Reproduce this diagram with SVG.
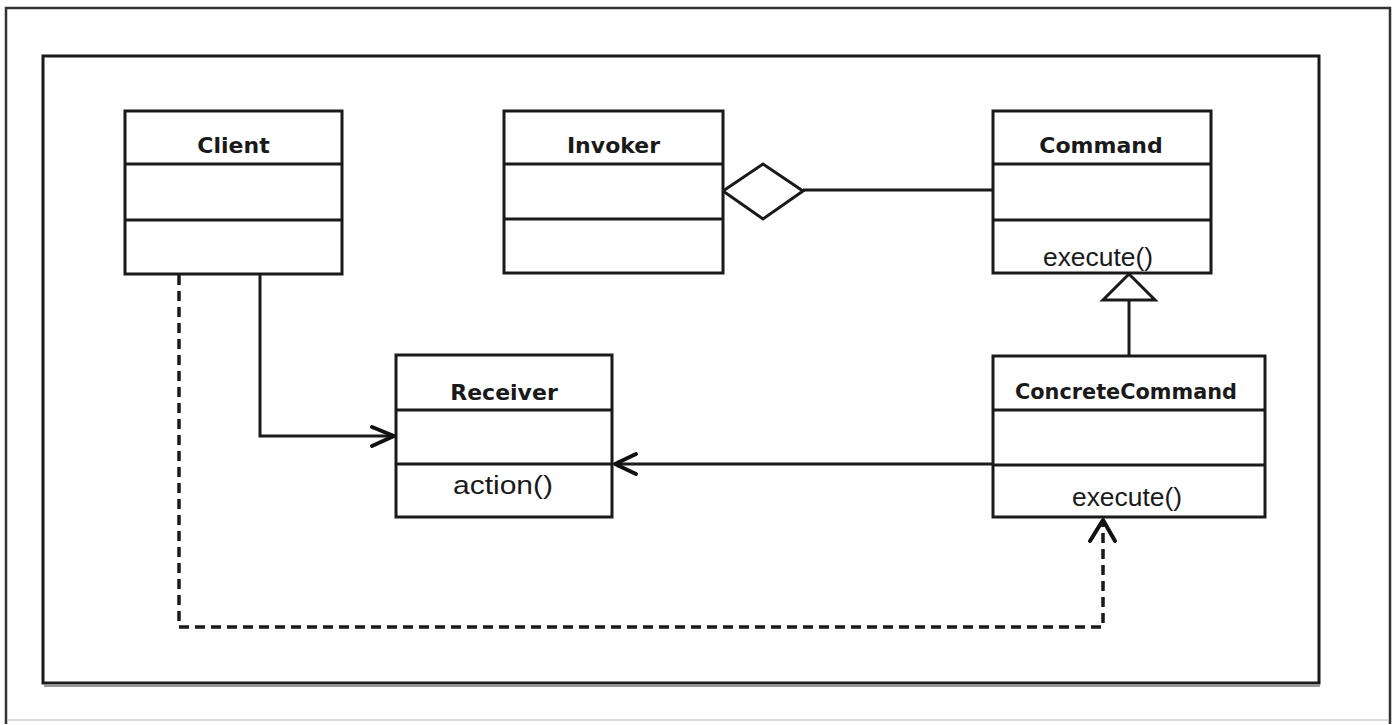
<svg xmlns="http://www.w3.org/2000/svg" width="1397" height="725" viewBox="0 0 1397 725">
<style>
.box{fill:#fff;stroke:#1a1a1a;stroke-width:3}
.div{stroke:#1a1a1a;stroke-width:3}
.title{font-family:"DejaVu Sans",sans-serif;font-weight:bold;font-size:22px;fill:#1a1a1a;text-anchor:middle}
.op{font-family:"Liberation Sans",Arial,sans-serif;font-size:26px;fill:#1a1a1a;text-anchor:middle}
.ln{fill:none;stroke:#1a1a1a;stroke-width:3}
.dash{fill:none;stroke:#1a1a1a;stroke-width:3.5;stroke-dasharray:10 6}
.head{fill:none;stroke:#111;stroke-width:4;stroke-linecap:round;stroke-linejoin:round}
</style>
<rect width="1397" height="725" fill="#fff"/>
<g id="frame">
<path d="M6,724 V8 H1390 V724" fill="none" stroke="#333" stroke-width="2.5"/>
<line x1="7" y1="720" x2="1389" y2="720" stroke="#ccc" stroke-width="1.5"/>
<rect x="43" y="56" width="1276" height="627" fill="#fff" stroke="#1a1a1a" stroke-width="3"/>
<line x1="44" y1="686" x2="1320" y2="686" stroke="#999" stroke-width="2"/>
</g>
<g id="connectors">
<line class="ln" x1="803" y1="190" x2="993" y2="190"/>
<line class="ln" x1="1129" y1="300" x2="1129" y2="356"/>
<path class="ln" d="M260,274 V436 H394"/>
<line class="ln" x1="993" y1="464" x2="614" y2="464"/>
<path class="dash" d="M179,275 V627 H1103 V522"/>
<polygon points="723,191 763,164 803,191 763,219" fill="#fff" stroke="#1a1a1a" stroke-width="3"/>
<polygon points="1129,274 1103,300 1155,300" fill="#fff" stroke="#1a1a1a" stroke-width="3"/>
<path class="head" d="M372,427 L394,436 L372,446"/>
<path class="head" d="M636,454 L615,464 L636,474"/>
<path class="head" d="M1090,541 L1103,520 L1115,541"/>
</g>
<g id="client">
<rect class="box" x="125" y="111" width="217" height="163"/>
<line class="div" x1="125" y1="164" x2="342" y2="164"/>
<line class="div" x1="125" y1="220" x2="342" y2="220"/>
<text class="title" x="233.5" y="153">Client</text>
</g>
<g id="invoker">
<rect class="box" x="504" y="111" width="219" height="162"/>
<line class="div" x1="504" y1="164" x2="723" y2="164"/>
<line class="div" x1="504" y1="219" x2="723" y2="219"/>
<text class="title" x="613.5" y="153">Invoker</text>
</g>
<g id="command">
<rect class="box" x="993" y="111" width="218" height="162"/>
<line class="div" x1="993" y1="164" x2="1211" y2="164"/>
<line class="div" x1="993" y1="220" x2="1211" y2="220"/>
<text class="title" x="1101" y="153">Command</text>
<text class="op" x="1098" y="266" textLength="110" lengthAdjust="spacingAndGlyphs">execute()</text>
</g>
<g id="receiver">
<rect class="box" x="396" y="355" width="216" height="162"/>
<line class="div" x1="396" y1="410" x2="612" y2="410"/>
<line class="div" x1="396" y1="464" x2="612" y2="464"/>
<text class="title" x="504" y="400">Receiver</text>
<text class="op" x="503" y="494" textLength="100" lengthAdjust="spacingAndGlyphs">action()</text>
</g>
<g id="concretecommand">
<rect class="box" x="993" y="356" width="272" height="161"/>
<line class="div" x1="993" y1="410" x2="1265" y2="410"/>
<line class="div" x1="993" y1="465" x2="1265" y2="465"/>
<text class="title" x="1126" y="399" textLength="222" lengthAdjust="spacingAndGlyphs">ConcreteCommand</text>
<text class="op" x="1127" y="506" textLength="110" lengthAdjust="spacingAndGlyphs">execute()</text>
</g>
</svg>
